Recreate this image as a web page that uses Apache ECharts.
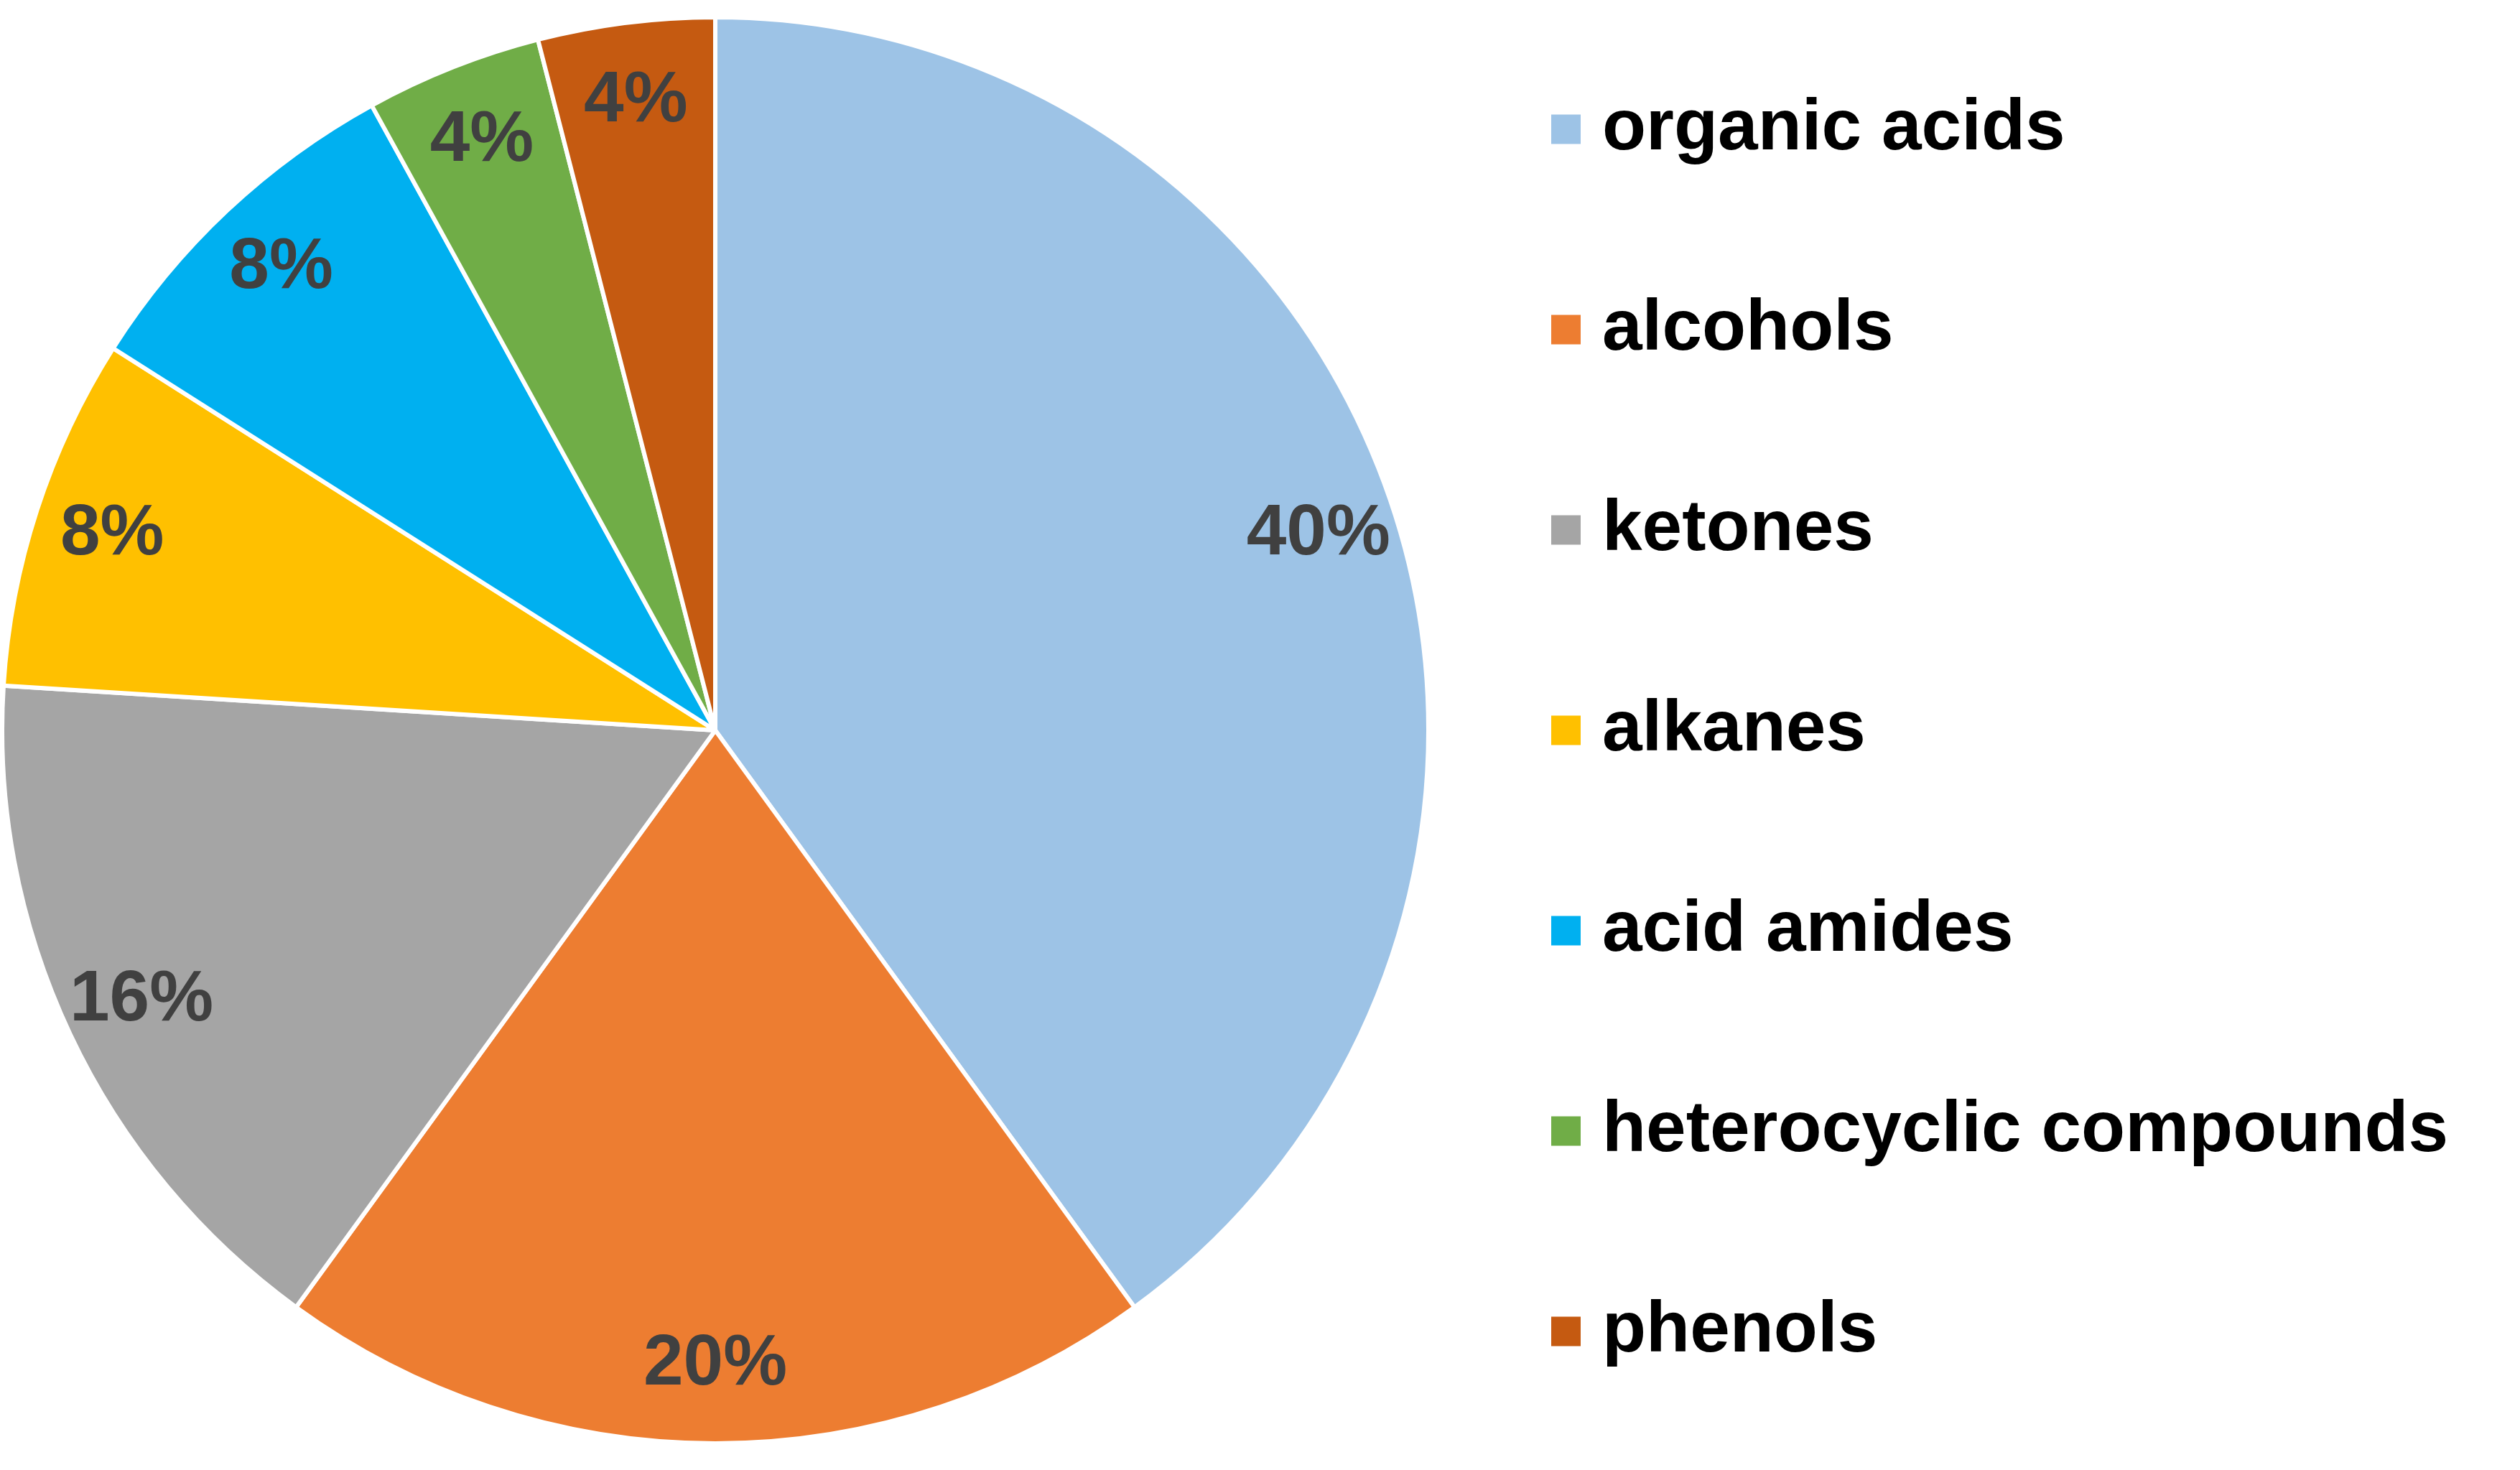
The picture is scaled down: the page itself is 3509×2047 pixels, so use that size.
<!DOCTYPE html>
<html>
<head>
<meta charset="utf-8">
<script src="https://cdn.jsdelivr.net/npm/echarts@6/dist/echarts.min.js"></script>
<style>
html,body{margin:0;padding:0;background:#fff;}
#chart{width:3509px;height:2047px;}
</style>
</head>
<body>
<div id="chart"></div>
<script>
const categories = ["organic acids","alcohols","ketones","alkanes","acid amides","heterocyclic compounds","phenols"];
const values = [40,20,16,8,8,4,4];
const colors = ["#9DC3E6","#ED7D31","#A5A5A5","#FFC000","#00B0F0","#70AD47","#C55A11"];

const pieData = categories.map((c,i)=>({name:c,value:values[i],itemStyle:{color:colors[i]}}));
const labelData = categories.map((c,i)=>({name:c,value:values[i]}));

const chart = echarts.init(document.getElementById('chart'), null, {renderer:'canvas'});
chart.setOption({
  backgroundColor:'#ffffff',
  animation:false,
  legend:{
    orient:'vertical',
    left:2153,
    top:125,
    data:categories,
    selectedMode:false,
    icon:'rect',
    itemWidth:43,
    itemHeight:43,
    itemGap:179,
    textStyle:{
      fontFamily:'"Liberation Sans", Arial, sans-serif',
      fontWeight:'bold',
      fontSize:100,
      lineHeight:100,
      color:'#000000',
      padding:[0,0,0,24]
    }
  },
  series:[
    {
      type:'pie',
      center:[996,1017],
      radius:[0,993],
      startAngle:90,
      clockwise:true,
      silent:true,
      data:pieData,
      itemStyle:{borderColor:'#ffffff',borderWidth:6},
      label:{show:false},
      labelLine:{show:false}
    },
    {
      type:'pie',
      center:[996,1017],
      radius:[770,990],
      startAngle:90,
      clockwise:true,
      silent:true,
      data:labelData,
      itemStyle:{color:'rgba(0,0,0,0)'},
      label:{
        show:true,
        position:'inside',
        formatter:p=>Math.round(p.percent)+'%',
        fontFamily:'"Liberation Sans", Arial, sans-serif',
        fontWeight:'bold',
        fontSize:100,
        color:'#404040'
      },
      labelLine:{show:false}
    }
  ]
});
</script>
</body>
</html>
